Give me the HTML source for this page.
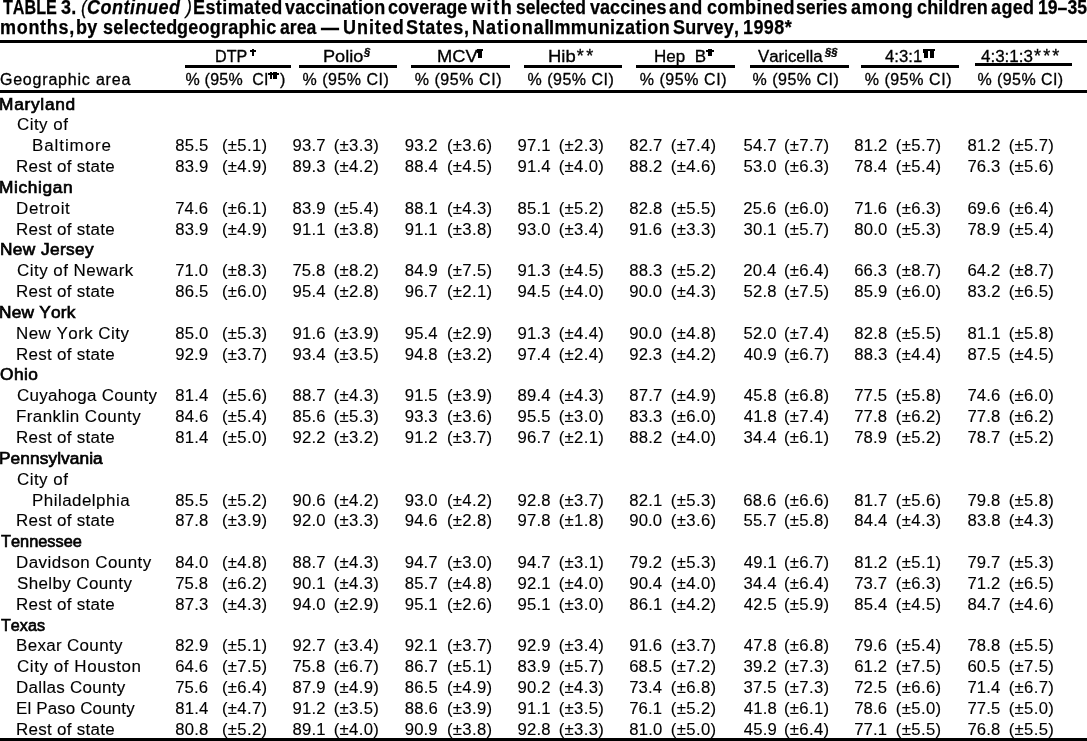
<!DOCTYPE html><html><head><meta charset="utf-8"><style>
html,body{margin:0;padding:0;background:#fff;}
body{width:1087px;height:741px;position:relative;overflow:hidden;will-change:transform;font-family:"Liberation Sans",sans-serif;color:#000;font-kerning:none;}
.t{position:absolute;white-space:pre;transform-origin:0 0;line-height:20px;}
.r{position:absolute;background:#000;}
.b{font-weight:bold;}
.i{font-style:italic;}
.m{-webkit-text-stroke:0.3px #000;}
.s{-webkit-text-stroke:0.65px #000;}
.d{-webkit-text-stroke:0.12px #000;}
</style></head><body><div class="t b" style="left:2.62px;top:-3px;font-size:20px;transform:scaleX(0.8073);-webkit-text-stroke:0.25px #000;">TABLE</div><div class="t b" style="left:60.89px;top:-3px;font-size:20px;transform:scaleX(0.9000);letter-spacing:0.378px;-webkit-text-stroke:0.25px #000;">3.</div><div class="t i" style="left:81.36px;top:-3px;font-size:20px;transform:scaleX(0.9000);-webkit-text-stroke:0.25px #000;">(</div><div class="t b i" style="left:87.42px;top:-3px;font-size:20px;transform:scaleX(0.9000);letter-spacing:0.554px;-webkit-text-stroke:0.25px #000;">Continued</div><div class="t i" style="left:185.75px;top:-3px;font-size:20px;transform:scaleX(0.9000);-webkit-text-stroke:0.25px #000;">)</div><div class="t b" style="left:192.70px;top:-3px;font-size:20px;transform:scaleX(0.9000);letter-spacing:0.453px;-webkit-text-stroke:0.25px #000;">Estimated</div><div class="t b" style="left:285.13px;top:-3px;font-size:20px;transform:scaleX(0.9000);letter-spacing:0.128px;-webkit-text-stroke:0.25px #000;">vaccination</div><div class="t b" style="left:388.40px;top:-3px;font-size:20px;transform:scaleX(0.9000);letter-spacing:0.043px;-webkit-text-stroke:0.25px #000;">coverage</div><div class="t b" style="left:470.55px;top:-3px;font-size:20px;transform:scaleX(0.9000);letter-spacing:1.768px;-webkit-text-stroke:0.25px #000;">with</div><div class="t b" style="left:515.69px;top:-3px;font-size:20px;transform:scaleX(0.8728);-webkit-text-stroke:0.25px #000;">selected</div><div class="t b" style="left:590.33px;top:-3px;font-size:20px;transform:scaleX(0.9000);letter-spacing:0.055px;-webkit-text-stroke:0.25px #000;">vaccines</div><div class="t b" style="left:669.47px;top:-3px;font-size:20px;transform:scaleX(0.9000);letter-spacing:0.729px;-webkit-text-stroke:0.25px #000;">and</div><div class="t b" style="left:706.90px;top:-3px;font-size:20px;transform:scaleX(0.9000);letter-spacing:0.394px;-webkit-text-stroke:0.25px #000;">combined</div><div class="t b" style="left:796.38px;top:-3px;font-size:20px;transform:scaleX(0.8862);-webkit-text-stroke:0.25px #000;">series</div><div class="t b" style="left:851.37px;top:-3px;font-size:20px;transform:scaleX(0.9000);letter-spacing:0.786px;-webkit-text-stroke:0.25px #000;">among</div><div class="t b" style="left:916.50px;top:-3px;font-size:20px;transform:scaleX(0.9000);letter-spacing:0.128px;-webkit-text-stroke:0.25px #000;">children</div><div class="t b" style="left:990.67px;top:-3px;font-size:20px;transform:scaleX(0.9000);letter-spacing:0.408px;-webkit-text-stroke:0.25px #000;">aged</div><div class="t b" style="left:1037.69px;top:-3px;font-size:20px;transform:scaleX(0.8811);-webkit-text-stroke:0.25px #000;">19–35</div><div class="t b" style="left:-0.09px;top:17px;font-size:20px;transform:scaleX(0.9000);letter-spacing:0.777px;-webkit-text-stroke:0.25px #000;">months,</div><div class="t b" style="left:76.11px;top:17px;font-size:20px;transform:scaleX(0.9000);letter-spacing:0.197px;-webkit-text-stroke:0.25px #000;">by</div><div class="t b" style="left:102.57px;top:17px;font-size:20px;transform:scaleX(0.9000);letter-spacing:0.361px;-webkit-text-stroke:0.25px #000;">selected</div><div class="t b" style="left:177.16px;top:17px;font-size:20px;transform:scaleX(0.9000);letter-spacing:0.266px;-webkit-text-stroke:0.25px #000;">geographic</div><div class="t b" style="left:279.68px;top:17px;font-size:20px;transform:scaleX(0.8798);-webkit-text-stroke:0.25px #000;">area</div><div class="t b" style="left:320.50px;top:17px;font-size:20px;transform:scaleX(0.9000);-webkit-text-stroke:0.25px #000;">—</div><div class="t b" style="left:342.82px;top:17px;font-size:20px;transform:scaleX(0.9000);letter-spacing:1.061px;-webkit-text-stroke:0.25px #000;">United</div><div class="t b" style="left:406.28px;top:17px;font-size:20px;transform:scaleX(0.9000);letter-spacing:0.721px;-webkit-text-stroke:0.25px #000;">States,</div><div class="t b" style="left:471.50px;top:17px;font-size:20px;transform:scaleX(0.9000);letter-spacing:1.043px;-webkit-text-stroke:0.25px #000;">National</div><div class="t b" style="left:549.30px;top:17px;font-size:20px;transform:scaleX(0.9000);letter-spacing:0.467px;-webkit-text-stroke:0.25px #000;">Immunization</div><div class="t b" style="left:673.28px;top:17px;font-size:20px;transform:scaleX(0.9000);letter-spacing:0.164px;-webkit-text-stroke:0.25px #000;">Survey,</div><div class="t b" style="left:742.87px;top:17px;font-size:20px;transform:scaleX(0.9000);letter-spacing:0.445px;-webkit-text-stroke:0.25px #000;">1998*</div><div class="r" style="left:0.00px;top:40.00px;width:1087.00px;height:3.00px"></div><div class="r" style="left:0.00px;top:90.00px;width:1087.00px;height:3.00px"></div><div class="r" style="left:0.00px;top:738.00px;width:1087.00px;height:3.00px"></div><div class="r" style="left:185.00px;top:65.00px;width:106.00px;height:3.00px"></div><div class="r" style="left:298.50px;top:65.00px;width:98.50px;height:3.00px"></div><div class="r" style="left:411.00px;top:65.00px;width:99.00px;height:3.00px"></div><div class="r" style="left:524.00px;top:65.00px;width:98.00px;height:3.00px"></div><div class="r" style="left:636.00px;top:65.00px;width:99.00px;height:3.00px"></div><div class="r" style="left:750.00px;top:65.00px;width:99.00px;height:3.00px"></div><div class="r" style="left:861.00px;top:65.00px;width:97.50px;height:3.00px"></div><div class="r" style="left:974.50px;top:63.00px;width:97.50px;height:3.00px"></div><div class="r" style="left:250.00px;top:50.00px;width:6.00px;height:1.60px"></div><div class="r" style="left:252.00px;top:49.00px;width:2.20px;height:7.00px"></div><div class="r" style="left:477.00px;top:49.00px;width:6.00px;height:2.00px"></div><div class="r" style="left:478.00px;top:49.00px;width:4.00px;height:9.00px"></div><div class="r" style="left:476.50px;top:51.00px;width:1.50px;height:2.00px"></div><div class="r" style="left:706.00px;top:50.00px;width:8.00px;height:1.60px"></div><div class="r" style="left:708.00px;top:49.00px;width:4.00px;height:7.00px"></div><div class="r" style="left:923.00px;top:49.00px;width:12.00px;height:2.00px"></div><div class="r" style="left:924.00px;top:49.00px;width:4.00px;height:9.00px"></div><div class="r" style="left:930.00px;top:49.00px;width:4.00px;height:9.00px"></div><div class="r" style="left:922.50px;top:51.00px;width:1.50px;height:2.00px"></div><div class="r" style="left:268.00px;top:73.00px;width:11.00px;height:1.50px"></div><div class="r" style="left:270.00px;top:72.00px;width:2.00px;height:7.00px"></div><div class="r" style="left:273.00px;top:72.00px;width:4.00px;height:7.00px"></div><div class="t m" style="left:-0.10px;top:70px;font-size:16px;letter-spacing:0.801px;">Geographic area</div><div class="t m" style="left:214.58px;top:47px;font-size:16px;transform:scaleX(1.0086);">DTP</div><div class="t m" style="left:185.43px;top:70px;font-size:16px;letter-spacing:0.237px;">% (95%  CI</div><div class="t m" style="left:279.91px;top:70px;font-size:16px;">)</div><div class="t m" style="left:323.41px;top:47px;font-size:16px;transform:scaleX(1.1341);">Polio</div><div class="t b i m" style="left:364.23px;top:43px;font-size:10px;transform:scaleX(1.1187);">§</div><div class="t m" style="left:302.53px;top:70px;font-size:16px;letter-spacing:0.496px;">% (95% CI)</div><div class="t m" style="left:436.50px;top:47px;font-size:16px;transform:scaleX(1.1413);">MCV</div><div class="t m" style="left:414.73px;top:70px;font-size:16px;letter-spacing:0.552px;">% (95% CI)</div><div class="t m" style="left:548.39px;top:47px;font-size:16px;transform:scaleX(1.1533);">Hib</div><div class="t m" style="left:576.71px;top:46px;font-size:18px;letter-spacing:2.562px;">**</div><div class="t m" style="left:527.53px;top:70px;font-size:16px;letter-spacing:0.496px;">% (95% CI)</div><div class="t m" style="left:654.30px;top:47px;font-size:16px;transform:scaleX(1.0629);">Hep  B</div><div class="t m" style="left:639.73px;top:70px;font-size:16px;letter-spacing:0.552px;">% (95% CI)</div><div class="t m" style="left:757.93px;top:47px;font-size:16px;transform:scaleX(1.0524);">Varicella</div><div class="t b i m" style="left:824.83px;top:43px;font-size:10px;transform:scaleX(1.1168);">§§</div><div class="t m" style="left:752.53px;top:70px;font-size:16px;letter-spacing:0.496px;">% (95% CI)</div><div class="t m" style="left:884.62px;top:47px;font-size:16px;transform:scaleX(1.0454);">4:3:1</div><div class="t m" style="left:864.73px;top:70px;font-size:16px;letter-spacing:0.552px;">% (95% CI)</div><div class="t m" style="left:981.41px;top:47px;font-size:16px;transform:scaleX(1.0614);">4:3:1:3</div><div class="t m" style="left:1034.01px;top:46px;font-size:18px;letter-spacing:2.128px;">***</div><div class="t m" style="left:977.43px;top:70px;font-size:16px;letter-spacing:0.441px;">% (95% CI)</div><div class="t s" style="left:-0.52px;top:95px;font-size:16px;transform:scaleX(1.0800);letter-spacing:0.683px;">Maryland</div><div class="t d" style="left:16.64px;top:115px;font-size:16px;transform:scaleX(1.0600);letter-spacing:0.436px;">City of</div><div class="t d" style="left:31.91px;top:136px;font-size:16px;transform:scaleX(1.0600);letter-spacing:0.874px;">Baltimore</div><div class="t d" style="left:175.27px;top:136px;font-size:16.7px;letter-spacing:0.150px;">85.5</div><div class="t d" style="left:221.96px;top:136px;font-size:16.7px;letter-spacing:0.350px;">(±5.1)</div><div class="t d" style="left:292.52px;top:136px;font-size:16.7px;letter-spacing:0.150px;">93.7</div><div class="t d" style="left:333.66px;top:136px;font-size:16.7px;letter-spacing:0.350px;">(±3.3)</div><div class="t d" style="left:404.72px;top:136px;font-size:16.7px;letter-spacing:0.150px;">93.2</div><div class="t d" style="left:446.96px;top:136px;font-size:16.7px;letter-spacing:0.350px;">(±3.6)</div><div class="t d" style="left:517.52px;top:136px;font-size:16.7px;letter-spacing:0.150px;">97.1</div><div class="t d" style="left:558.66px;top:136px;font-size:16.7px;letter-spacing:0.350px;">(±2.3)</div><div class="t d" style="left:629.27px;top:136px;font-size:16.7px;letter-spacing:0.150px;">82.7</div><div class="t d" style="left:670.86px;top:136px;font-size:16.7px;letter-spacing:0.350px;">(±7.4)</div><div class="t d" style="left:743.53px;top:136px;font-size:16.7px;letter-spacing:0.150px;">54.7</div><div class="t d" style="left:783.96px;top:136px;font-size:16.7px;letter-spacing:0.350px;">(±7.7)</div><div class="t d" style="left:854.27px;top:136px;font-size:16.7px;letter-spacing:0.150px;">81.2</div><div class="t d" style="left:895.86px;top:136px;font-size:16.7px;letter-spacing:0.350px;">(±5.7)</div><div class="t d" style="left:967.57px;top:136px;font-size:16.7px;letter-spacing:0.150px;">81.2</div><div class="t d" style="left:1008.66px;top:136px;font-size:16.7px;letter-spacing:0.350px;">(±5.7)</div><div class="t d" style="left:16.11px;top:157px;font-size:16px;transform:scaleX(1.0600);letter-spacing:0.270px;">Rest of state</div><div class="t d" style="left:175.27px;top:157px;font-size:16.7px;letter-spacing:0.150px;">83.9</div><div class="t d" style="left:221.96px;top:157px;font-size:16.7px;letter-spacing:0.350px;">(±4.9)</div><div class="t d" style="left:292.57px;top:157px;font-size:16.7px;letter-spacing:0.150px;">89.3</div><div class="t d" style="left:333.66px;top:157px;font-size:16.7px;letter-spacing:0.350px;">(±4.2)</div><div class="t d" style="left:404.77px;top:157px;font-size:16.7px;letter-spacing:0.150px;">88.4</div><div class="t d" style="left:446.96px;top:157px;font-size:16.7px;letter-spacing:0.350px;">(±4.5)</div><div class="t d" style="left:517.52px;top:157px;font-size:16.7px;letter-spacing:0.150px;">91.4</div><div class="t d" style="left:558.66px;top:157px;font-size:16.7px;letter-spacing:0.350px;">(±4.0)</div><div class="t d" style="left:629.27px;top:157px;font-size:16.7px;letter-spacing:0.150px;">88.2</div><div class="t d" style="left:670.86px;top:157px;font-size:16.7px;letter-spacing:0.350px;">(±4.6)</div><div class="t d" style="left:743.53px;top:157px;font-size:16.7px;letter-spacing:0.150px;">53.0</div><div class="t d" style="left:783.96px;top:157px;font-size:16.7px;letter-spacing:0.350px;">(±6.3)</div><div class="t d" style="left:854.14px;top:157px;font-size:16.7px;letter-spacing:0.150px;">78.4</div><div class="t d" style="left:895.86px;top:157px;font-size:16.7px;letter-spacing:0.350px;">(±5.4)</div><div class="t d" style="left:967.44px;top:157px;font-size:16.7px;letter-spacing:0.150px;">76.3</div><div class="t d" style="left:1008.66px;top:157px;font-size:16.7px;letter-spacing:0.350px;">(±5.6)</div><div class="t s" style="left:-0.52px;top:178px;font-size:16px;transform:scaleX(1.0800);letter-spacing:0.593px;">Michigan</div><div class="t d" style="left:16.11px;top:199px;font-size:16px;transform:scaleX(1.0600);letter-spacing:0.607px;">Detroit</div><div class="t d" style="left:175.14px;top:199px;font-size:16.7px;letter-spacing:0.150px;">74.6</div><div class="t d" style="left:221.96px;top:199px;font-size:16.7px;letter-spacing:0.350px;">(±6.1)</div><div class="t d" style="left:292.57px;top:199px;font-size:16.7px;letter-spacing:0.150px;">83.9</div><div class="t d" style="left:333.66px;top:199px;font-size:16.7px;letter-spacing:0.350px;">(±5.4)</div><div class="t d" style="left:404.77px;top:199px;font-size:16.7px;letter-spacing:0.150px;">88.1</div><div class="t d" style="left:446.96px;top:199px;font-size:16.7px;letter-spacing:0.350px;">(±4.3)</div><div class="t d" style="left:517.57px;top:199px;font-size:16.7px;letter-spacing:0.150px;">85.1</div><div class="t d" style="left:558.66px;top:199px;font-size:16.7px;letter-spacing:0.350px;">(±5.2)</div><div class="t d" style="left:629.27px;top:199px;font-size:16.7px;letter-spacing:0.150px;">82.8</div><div class="t d" style="left:670.86px;top:199px;font-size:16.7px;letter-spacing:0.350px;">(±5.5)</div><div class="t d" style="left:743.36px;top:199px;font-size:16.7px;letter-spacing:0.150px;">25.6</div><div class="t d" style="left:783.96px;top:199px;font-size:16.7px;letter-spacing:0.350px;">(±6.0)</div><div class="t d" style="left:854.14px;top:199px;font-size:16.7px;letter-spacing:0.150px;">71.6</div><div class="t d" style="left:895.86px;top:199px;font-size:16.7px;letter-spacing:0.350px;">(±6.3)</div><div class="t d" style="left:967.45px;top:199px;font-size:16.7px;letter-spacing:0.150px;">69.6</div><div class="t d" style="left:1008.66px;top:199px;font-size:16.7px;letter-spacing:0.350px;">(±6.4)</div><div class="t d" style="left:16.11px;top:220px;font-size:16px;transform:scaleX(1.0600);letter-spacing:0.270px;">Rest of state</div><div class="t d" style="left:175.27px;top:220px;font-size:16.7px;letter-spacing:0.150px;">83.9</div><div class="t d" style="left:221.96px;top:220px;font-size:16.7px;letter-spacing:0.350px;">(±4.9)</div><div class="t d" style="left:292.52px;top:220px;font-size:16.7px;letter-spacing:0.150px;">91.1</div><div class="t d" style="left:333.66px;top:220px;font-size:16.7px;letter-spacing:0.350px;">(±3.8)</div><div class="t d" style="left:404.72px;top:220px;font-size:16.7px;letter-spacing:0.150px;">91.1</div><div class="t d" style="left:446.96px;top:220px;font-size:16.7px;letter-spacing:0.350px;">(±3.8)</div><div class="t d" style="left:517.52px;top:220px;font-size:16.7px;letter-spacing:0.150px;">93.0</div><div class="t d" style="left:558.66px;top:220px;font-size:16.7px;letter-spacing:0.350px;">(±3.4)</div><div class="t d" style="left:629.22px;top:220px;font-size:16.7px;letter-spacing:0.150px;">91.6</div><div class="t d" style="left:670.86px;top:220px;font-size:16.7px;letter-spacing:0.350px;">(±3.3)</div><div class="t d" style="left:743.56px;top:220px;font-size:16.7px;letter-spacing:0.150px;">30.1</div><div class="t d" style="left:783.96px;top:220px;font-size:16.7px;letter-spacing:0.350px;">(±5.7)</div><div class="t d" style="left:854.27px;top:220px;font-size:16.7px;letter-spacing:0.150px;">80.0</div><div class="t d" style="left:895.86px;top:220px;font-size:16.7px;letter-spacing:0.350px;">(±5.3)</div><div class="t d" style="left:967.44px;top:220px;font-size:16.7px;letter-spacing:0.150px;">78.9</div><div class="t d" style="left:1008.66px;top:220px;font-size:16.7px;letter-spacing:0.350px;">(±5.4)</div><div class="t s" style="left:-0.32px;top:240px;font-size:16px;transform:scaleX(1.0800);letter-spacing:0.359px;">New Jersey</div><div class="t d" style="left:16.64px;top:261px;font-size:16px;transform:scaleX(1.0600);letter-spacing:0.441px;">City of Newark</div><div class="t d" style="left:175.14px;top:261px;font-size:16.7px;letter-spacing:0.150px;">71.0</div><div class="t d" style="left:221.96px;top:261px;font-size:16.7px;letter-spacing:0.350px;">(±8.3)</div><div class="t d" style="left:292.44px;top:261px;font-size:16.7px;letter-spacing:0.150px;">75.8</div><div class="t d" style="left:333.66px;top:261px;font-size:16.7px;letter-spacing:0.350px;">(±8.2)</div><div class="t d" style="left:404.77px;top:261px;font-size:16.7px;letter-spacing:0.150px;">84.9</div><div class="t d" style="left:446.96px;top:261px;font-size:16.7px;letter-spacing:0.350px;">(±7.5)</div><div class="t d" style="left:517.52px;top:261px;font-size:16.7px;letter-spacing:0.150px;">91.3</div><div class="t d" style="left:558.66px;top:261px;font-size:16.7px;letter-spacing:0.350px;">(±4.5)</div><div class="t d" style="left:629.27px;top:261px;font-size:16.7px;letter-spacing:0.150px;">88.3</div><div class="t d" style="left:670.86px;top:261px;font-size:16.7px;letter-spacing:0.350px;">(±5.2)</div><div class="t d" style="left:743.36px;top:261px;font-size:16.7px;letter-spacing:0.150px;">20.4</div><div class="t d" style="left:783.96px;top:261px;font-size:16.7px;letter-spacing:0.350px;">(±6.4)</div><div class="t d" style="left:854.15px;top:261px;font-size:16.7px;letter-spacing:0.150px;">66.3</div><div class="t d" style="left:895.86px;top:261px;font-size:16.7px;letter-spacing:0.350px;">(±8.7)</div><div class="t d" style="left:967.45px;top:261px;font-size:16.7px;letter-spacing:0.150px;">64.2</div><div class="t d" style="left:1008.66px;top:261px;font-size:16.7px;letter-spacing:0.350px;">(±8.7)</div><div class="t d" style="left:16.11px;top:282px;font-size:16px;transform:scaleX(1.0600);letter-spacing:0.270px;">Rest of state</div><div class="t d" style="left:175.27px;top:282px;font-size:16.7px;letter-spacing:0.150px;">86.5</div><div class="t d" style="left:221.96px;top:282px;font-size:16.7px;letter-spacing:0.350px;">(±6.0)</div><div class="t d" style="left:292.52px;top:282px;font-size:16.7px;letter-spacing:0.150px;">95.4</div><div class="t d" style="left:333.66px;top:282px;font-size:16.7px;letter-spacing:0.350px;">(±2.8)</div><div class="t d" style="left:404.72px;top:282px;font-size:16.7px;letter-spacing:0.150px;">96.7</div><div class="t d" style="left:446.96px;top:282px;font-size:16.7px;letter-spacing:0.350px;">(±2.1)</div><div class="t d" style="left:517.52px;top:282px;font-size:16.7px;letter-spacing:0.150px;">94.5</div><div class="t d" style="left:558.66px;top:282px;font-size:16.7px;letter-spacing:0.350px;">(±4.0)</div><div class="t d" style="left:629.22px;top:282px;font-size:16.7px;letter-spacing:0.150px;">90.0</div><div class="t d" style="left:670.86px;top:282px;font-size:16.7px;letter-spacing:0.350px;">(±4.3)</div><div class="t d" style="left:743.53px;top:282px;font-size:16.7px;letter-spacing:0.150px;">52.8</div><div class="t d" style="left:783.96px;top:282px;font-size:16.7px;letter-spacing:0.350px;">(±7.5)</div><div class="t d" style="left:854.27px;top:282px;font-size:16.7px;letter-spacing:0.150px;">85.9</div><div class="t d" style="left:895.86px;top:282px;font-size:16.7px;letter-spacing:0.350px;">(±6.0)</div><div class="t d" style="left:967.57px;top:282px;font-size:16.7px;letter-spacing:0.150px;">83.2</div><div class="t d" style="left:1008.66px;top:282px;font-size:16.7px;letter-spacing:0.350px;">(±6.5)</div><div class="t s" style="left:-0.52px;top:303px;font-size:16px;transform:scaleX(1.0800);letter-spacing:0.184px;">New York</div><div class="t d" style="left:16.11px;top:324px;font-size:16px;transform:scaleX(1.0600);letter-spacing:0.432px;">New York City</div><div class="t d" style="left:175.27px;top:324px;font-size:16.7px;letter-spacing:0.150px;">85.0</div><div class="t d" style="left:221.96px;top:324px;font-size:16.7px;letter-spacing:0.350px;">(±5.3)</div><div class="t d" style="left:292.52px;top:324px;font-size:16.7px;letter-spacing:0.150px;">91.6</div><div class="t d" style="left:333.66px;top:324px;font-size:16.7px;letter-spacing:0.350px;">(±3.9)</div><div class="t d" style="left:404.72px;top:324px;font-size:16.7px;letter-spacing:0.150px;">95.4</div><div class="t d" style="left:446.96px;top:324px;font-size:16.7px;letter-spacing:0.350px;">(±2.9)</div><div class="t d" style="left:517.52px;top:324px;font-size:16.7px;letter-spacing:0.150px;">91.3</div><div class="t d" style="left:558.66px;top:324px;font-size:16.7px;letter-spacing:0.350px;">(±4.4)</div><div class="t d" style="left:629.22px;top:324px;font-size:16.7px;letter-spacing:0.150px;">90.0</div><div class="t d" style="left:670.86px;top:324px;font-size:16.7px;letter-spacing:0.350px;">(±4.8)</div><div class="t d" style="left:743.53px;top:324px;font-size:16.7px;letter-spacing:0.150px;">52.0</div><div class="t d" style="left:783.96px;top:324px;font-size:16.7px;letter-spacing:0.350px;">(±7.4)</div><div class="t d" style="left:854.27px;top:324px;font-size:16.7px;letter-spacing:0.150px;">82.8</div><div class="t d" style="left:895.86px;top:324px;font-size:16.7px;letter-spacing:0.350px;">(±5.5)</div><div class="t d" style="left:967.57px;top:324px;font-size:16.7px;letter-spacing:0.150px;">81.1</div><div class="t d" style="left:1008.66px;top:324px;font-size:16.7px;letter-spacing:0.350px;">(±5.8)</div><div class="t d" style="left:16.11px;top:345px;font-size:16px;transform:scaleX(1.0600);letter-spacing:0.270px;">Rest of state</div><div class="t d" style="left:175.22px;top:345px;font-size:16.7px;letter-spacing:0.150px;">92.9</div><div class="t d" style="left:221.96px;top:345px;font-size:16.7px;letter-spacing:0.350px;">(±3.7)</div><div class="t d" style="left:292.52px;top:345px;font-size:16.7px;letter-spacing:0.150px;">93.4</div><div class="t d" style="left:333.66px;top:345px;font-size:16.7px;letter-spacing:0.350px;">(±3.5)</div><div class="t d" style="left:404.72px;top:345px;font-size:16.7px;letter-spacing:0.150px;">94.8</div><div class="t d" style="left:446.96px;top:345px;font-size:16.7px;letter-spacing:0.350px;">(±3.2)</div><div class="t d" style="left:517.52px;top:345px;font-size:16.7px;letter-spacing:0.150px;">97.4</div><div class="t d" style="left:558.66px;top:345px;font-size:16.7px;letter-spacing:0.350px;">(±2.4)</div><div class="t d" style="left:629.22px;top:345px;font-size:16.7px;letter-spacing:0.150px;">92.3</div><div class="t d" style="left:670.86px;top:345px;font-size:16.7px;letter-spacing:0.350px;">(±4.2)</div><div class="t d" style="left:743.82px;top:345px;font-size:16.7px;letter-spacing:0.150px;">40.9</div><div class="t d" style="left:783.96px;top:345px;font-size:16.7px;letter-spacing:0.350px;">(±6.7)</div><div class="t d" style="left:854.27px;top:345px;font-size:16.7px;letter-spacing:0.150px;">88.3</div><div class="t d" style="left:895.86px;top:345px;font-size:16.7px;letter-spacing:0.350px;">(±4.4)</div><div class="t d" style="left:967.57px;top:345px;font-size:16.7px;letter-spacing:0.150px;">87.5</div><div class="t d" style="left:1008.66px;top:345px;font-size:16.7px;letter-spacing:0.350px;">(±4.5)</div><div class="t s" style="left:0.08px;top:365px;font-size:16px;transform:scaleX(1.0800);letter-spacing:0.415px;">Ohio</div><div class="t d" style="left:16.64px;top:386px;font-size:16px;transform:scaleX(1.0600);letter-spacing:0.278px;">Cuyahoga County</div><div class="t d" style="left:175.27px;top:386px;font-size:16.7px;letter-spacing:0.150px;">81.4</div><div class="t d" style="left:221.96px;top:386px;font-size:16.7px;letter-spacing:0.350px;">(±5.6)</div><div class="t d" style="left:292.57px;top:386px;font-size:16.7px;letter-spacing:0.150px;">88.7</div><div class="t d" style="left:333.66px;top:386px;font-size:16.7px;letter-spacing:0.350px;">(±4.3)</div><div class="t d" style="left:404.72px;top:386px;font-size:16.7px;letter-spacing:0.150px;">91.5</div><div class="t d" style="left:446.96px;top:386px;font-size:16.7px;letter-spacing:0.350px;">(±3.9)</div><div class="t d" style="left:517.57px;top:386px;font-size:16.7px;letter-spacing:0.150px;">89.4</div><div class="t d" style="left:558.66px;top:386px;font-size:16.7px;letter-spacing:0.350px;">(±4.3)</div><div class="t d" style="left:629.27px;top:386px;font-size:16.7px;letter-spacing:0.150px;">87.7</div><div class="t d" style="left:670.86px;top:386px;font-size:16.7px;letter-spacing:0.350px;">(±4.9)</div><div class="t d" style="left:743.82px;top:386px;font-size:16.7px;letter-spacing:0.150px;">45.8</div><div class="t d" style="left:783.96px;top:386px;font-size:16.7px;letter-spacing:0.350px;">(±6.8)</div><div class="t d" style="left:854.14px;top:386px;font-size:16.7px;letter-spacing:0.150px;">77.5</div><div class="t d" style="left:895.86px;top:386px;font-size:16.7px;letter-spacing:0.350px;">(±5.8)</div><div class="t d" style="left:967.44px;top:386px;font-size:16.7px;letter-spacing:0.150px;">74.6</div><div class="t d" style="left:1008.66px;top:386px;font-size:16.7px;letter-spacing:0.350px;">(±6.0)</div><div class="t d" style="left:16.11px;top:407px;font-size:16px;transform:scaleX(1.0600);letter-spacing:0.395px;">Franklin County</div><div class="t d" style="left:175.27px;top:407px;font-size:16.7px;letter-spacing:0.150px;">84.6</div><div class="t d" style="left:221.96px;top:407px;font-size:16.7px;letter-spacing:0.350px;">(±5.4)</div><div class="t d" style="left:292.57px;top:407px;font-size:16.7px;letter-spacing:0.150px;">85.6</div><div class="t d" style="left:333.66px;top:407px;font-size:16.7px;letter-spacing:0.350px;">(±5.3)</div><div class="t d" style="left:404.72px;top:407px;font-size:16.7px;letter-spacing:0.150px;">93.3</div><div class="t d" style="left:446.96px;top:407px;font-size:16.7px;letter-spacing:0.350px;">(±3.6)</div><div class="t d" style="left:517.52px;top:407px;font-size:16.7px;letter-spacing:0.150px;">95.5</div><div class="t d" style="left:558.66px;top:407px;font-size:16.7px;letter-spacing:0.350px;">(±3.0)</div><div class="t d" style="left:629.27px;top:407px;font-size:16.7px;letter-spacing:0.150px;">83.3</div><div class="t d" style="left:670.86px;top:407px;font-size:16.7px;letter-spacing:0.350px;">(±6.0)</div><div class="t d" style="left:743.82px;top:407px;font-size:16.7px;letter-spacing:0.150px;">41.8</div><div class="t d" style="left:783.96px;top:407px;font-size:16.7px;letter-spacing:0.350px;">(±7.4)</div><div class="t d" style="left:854.14px;top:407px;font-size:16.7px;letter-spacing:0.150px;">77.8</div><div class="t d" style="left:895.86px;top:407px;font-size:16.7px;letter-spacing:0.350px;">(±6.2)</div><div class="t d" style="left:967.44px;top:407px;font-size:16.7px;letter-spacing:0.150px;">77.8</div><div class="t d" style="left:1008.66px;top:407px;font-size:16.7px;letter-spacing:0.350px;">(±6.2)</div><div class="t d" style="left:16.11px;top:428px;font-size:16px;transform:scaleX(1.0600);letter-spacing:0.270px;">Rest of state</div><div class="t d" style="left:175.27px;top:428px;font-size:16.7px;letter-spacing:0.150px;">81.4</div><div class="t d" style="left:221.96px;top:428px;font-size:16.7px;letter-spacing:0.350px;">(±5.0)</div><div class="t d" style="left:292.52px;top:428px;font-size:16.7px;letter-spacing:0.150px;">92.2</div><div class="t d" style="left:333.66px;top:428px;font-size:16.7px;letter-spacing:0.350px;">(±3.2)</div><div class="t d" style="left:404.72px;top:428px;font-size:16.7px;letter-spacing:0.150px;">91.2</div><div class="t d" style="left:446.96px;top:428px;font-size:16.7px;letter-spacing:0.350px;">(±3.7)</div><div class="t d" style="left:517.52px;top:428px;font-size:16.7px;letter-spacing:0.150px;">96.7</div><div class="t d" style="left:558.66px;top:428px;font-size:16.7px;letter-spacing:0.350px;">(±2.1)</div><div class="t d" style="left:629.27px;top:428px;font-size:16.7px;letter-spacing:0.150px;">88.2</div><div class="t d" style="left:670.86px;top:428px;font-size:16.7px;letter-spacing:0.350px;">(±4.0)</div><div class="t d" style="left:743.56px;top:428px;font-size:16.7px;letter-spacing:0.150px;">34.4</div><div class="t d" style="left:783.96px;top:428px;font-size:16.7px;letter-spacing:0.350px;">(±6.1)</div><div class="t d" style="left:854.14px;top:428px;font-size:16.7px;letter-spacing:0.150px;">78.9</div><div class="t d" style="left:895.86px;top:428px;font-size:16.7px;letter-spacing:0.350px;">(±5.2)</div><div class="t d" style="left:967.44px;top:428px;font-size:16.7px;letter-spacing:0.150px;">78.7</div><div class="t d" style="left:1008.66px;top:428px;font-size:16.7px;letter-spacing:0.350px;">(±5.2)</div><div class="t s" style="left:-0.72px;top:449px;font-size:16px;transform:scaleX(1.0800);letter-spacing:0.078px;">Pennsylvania</div><div class="t d" style="left:16.64px;top:470px;font-size:16px;transform:scaleX(1.0600);letter-spacing:0.436px;">City of</div><div class="t d" style="left:31.91px;top:491px;font-size:16px;transform:scaleX(1.0600);letter-spacing:0.444px;">Philadelphia</div><div class="t d" style="left:175.27px;top:491px;font-size:16.7px;letter-spacing:0.150px;">85.5</div><div class="t d" style="left:221.96px;top:491px;font-size:16.7px;letter-spacing:0.350px;">(±5.2)</div><div class="t d" style="left:292.52px;top:491px;font-size:16.7px;letter-spacing:0.150px;">90.6</div><div class="t d" style="left:333.66px;top:491px;font-size:16.7px;letter-spacing:0.350px;">(±4.2)</div><div class="t d" style="left:404.72px;top:491px;font-size:16.7px;letter-spacing:0.150px;">93.0</div><div class="t d" style="left:446.96px;top:491px;font-size:16.7px;letter-spacing:0.350px;">(±4.2)</div><div class="t d" style="left:517.52px;top:491px;font-size:16.7px;letter-spacing:0.150px;">92.8</div><div class="t d" style="left:558.66px;top:491px;font-size:16.7px;letter-spacing:0.350px;">(±3.7)</div><div class="t d" style="left:629.27px;top:491px;font-size:16.7px;letter-spacing:0.150px;">82.1</div><div class="t d" style="left:670.86px;top:491px;font-size:16.7px;letter-spacing:0.350px;">(±5.3)</div><div class="t d" style="left:743.35px;top:491px;font-size:16.7px;letter-spacing:0.150px;">68.6</div><div class="t d" style="left:783.96px;top:491px;font-size:16.7px;letter-spacing:0.350px;">(±6.6)</div><div class="t d" style="left:854.27px;top:491px;font-size:16.7px;letter-spacing:0.150px;">81.7</div><div class="t d" style="left:895.86px;top:491px;font-size:16.7px;letter-spacing:0.350px;">(±5.6)</div><div class="t d" style="left:967.44px;top:491px;font-size:16.7px;letter-spacing:0.150px;">79.8</div><div class="t d" style="left:1008.66px;top:491px;font-size:16.7px;letter-spacing:0.350px;">(±5.8)</div><div class="t d" style="left:16.11px;top:511px;font-size:16px;transform:scaleX(1.0600);letter-spacing:0.270px;">Rest of state</div><div class="t d" style="left:175.27px;top:511px;font-size:16.7px;letter-spacing:0.150px;">87.8</div><div class="t d" style="left:221.96px;top:511px;font-size:16.7px;letter-spacing:0.350px;">(±3.9)</div><div class="t d" style="left:292.52px;top:511px;font-size:16.7px;letter-spacing:0.150px;">92.0</div><div class="t d" style="left:333.66px;top:511px;font-size:16.7px;letter-spacing:0.350px;">(±3.3)</div><div class="t d" style="left:404.72px;top:511px;font-size:16.7px;letter-spacing:0.150px;">94.6</div><div class="t d" style="left:446.96px;top:511px;font-size:16.7px;letter-spacing:0.350px;">(±2.8)</div><div class="t d" style="left:517.52px;top:511px;font-size:16.7px;letter-spacing:0.150px;">97.8</div><div class="t d" style="left:558.66px;top:511px;font-size:16.7px;letter-spacing:0.350px;">(±1.8)</div><div class="t d" style="left:629.22px;top:511px;font-size:16.7px;letter-spacing:0.150px;">90.0</div><div class="t d" style="left:670.86px;top:511px;font-size:16.7px;letter-spacing:0.350px;">(±3.6)</div><div class="t d" style="left:743.53px;top:511px;font-size:16.7px;letter-spacing:0.150px;">55.7</div><div class="t d" style="left:783.96px;top:511px;font-size:16.7px;letter-spacing:0.350px;">(±5.8)</div><div class="t d" style="left:854.27px;top:511px;font-size:16.7px;letter-spacing:0.150px;">84.4</div><div class="t d" style="left:895.86px;top:511px;font-size:16.7px;letter-spacing:0.350px;">(±4.3)</div><div class="t d" style="left:967.57px;top:511px;font-size:16.7px;letter-spacing:0.150px;">83.8</div><div class="t d" style="left:1008.66px;top:511px;font-size:16.7px;letter-spacing:0.350px;">(±4.3)</div><div class="t s" style="left:0.83px;top:532px;font-size:16px;transform:scaleX(1.0218);">Tennessee</div><div class="t d" style="left:16.11px;top:553px;font-size:16px;transform:scaleX(1.0600);letter-spacing:0.402px;">Davidson County</div><div class="t d" style="left:175.27px;top:553px;font-size:16.7px;letter-spacing:0.150px;">84.0</div><div class="t d" style="left:221.96px;top:553px;font-size:16.7px;letter-spacing:0.350px;">(±4.8)</div><div class="t d" style="left:292.57px;top:553px;font-size:16.7px;letter-spacing:0.150px;">88.7</div><div class="t d" style="left:333.66px;top:553px;font-size:16.7px;letter-spacing:0.350px;">(±4.3)</div><div class="t d" style="left:404.72px;top:553px;font-size:16.7px;letter-spacing:0.150px;">94.7</div><div class="t d" style="left:446.96px;top:553px;font-size:16.7px;letter-spacing:0.350px;">(±3.0)</div><div class="t d" style="left:517.52px;top:553px;font-size:16.7px;letter-spacing:0.150px;">94.7</div><div class="t d" style="left:558.66px;top:553px;font-size:16.7px;letter-spacing:0.350px;">(±3.1)</div><div class="t d" style="left:629.14px;top:553px;font-size:16.7px;letter-spacing:0.150px;">79.2</div><div class="t d" style="left:670.86px;top:553px;font-size:16.7px;letter-spacing:0.350px;">(±5.3)</div><div class="t d" style="left:743.82px;top:553px;font-size:16.7px;letter-spacing:0.150px;">49.1</div><div class="t d" style="left:783.96px;top:553px;font-size:16.7px;letter-spacing:0.350px;">(±6.7)</div><div class="t d" style="left:854.27px;top:553px;font-size:16.7px;letter-spacing:0.150px;">81.2</div><div class="t d" style="left:895.86px;top:553px;font-size:16.7px;letter-spacing:0.350px;">(±5.1)</div><div class="t d" style="left:967.44px;top:553px;font-size:16.7px;letter-spacing:0.150px;">79.7</div><div class="t d" style="left:1008.66px;top:553px;font-size:16.7px;letter-spacing:0.350px;">(±5.3)</div><div class="t d" style="left:16.73px;top:574px;font-size:16px;transform:scaleX(1.0600);letter-spacing:0.361px;">Shelby County</div><div class="t d" style="left:175.14px;top:574px;font-size:16.7px;letter-spacing:0.150px;">75.8</div><div class="t d" style="left:221.96px;top:574px;font-size:16.7px;letter-spacing:0.350px;">(±6.2)</div><div class="t d" style="left:292.52px;top:574px;font-size:16.7px;letter-spacing:0.150px;">90.1</div><div class="t d" style="left:333.66px;top:574px;font-size:16.7px;letter-spacing:0.350px;">(±4.3)</div><div class="t d" style="left:404.77px;top:574px;font-size:16.7px;letter-spacing:0.150px;">85.7</div><div class="t d" style="left:446.96px;top:574px;font-size:16.7px;letter-spacing:0.350px;">(±4.8)</div><div class="t d" style="left:517.52px;top:574px;font-size:16.7px;letter-spacing:0.150px;">92.1</div><div class="t d" style="left:558.66px;top:574px;font-size:16.7px;letter-spacing:0.350px;">(±4.0)</div><div class="t d" style="left:629.22px;top:574px;font-size:16.7px;letter-spacing:0.150px;">90.4</div><div class="t d" style="left:670.86px;top:574px;font-size:16.7px;letter-spacing:0.350px;">(±4.0)</div><div class="t d" style="left:743.56px;top:574px;font-size:16.7px;letter-spacing:0.150px;">34.4</div><div class="t d" style="left:783.96px;top:574px;font-size:16.7px;letter-spacing:0.350px;">(±6.4)</div><div class="t d" style="left:854.14px;top:574px;font-size:16.7px;letter-spacing:0.150px;">73.7</div><div class="t d" style="left:895.86px;top:574px;font-size:16.7px;letter-spacing:0.350px;">(±6.3)</div><div class="t d" style="left:967.44px;top:574px;font-size:16.7px;letter-spacing:0.150px;">71.2</div><div class="t d" style="left:1008.66px;top:574px;font-size:16.7px;letter-spacing:0.350px;">(±6.5)</div><div class="t d" style="left:16.11px;top:595px;font-size:16px;transform:scaleX(1.0600);letter-spacing:0.270px;">Rest of state</div><div class="t d" style="left:175.27px;top:595px;font-size:16.7px;letter-spacing:0.150px;">87.3</div><div class="t d" style="left:221.96px;top:595px;font-size:16.7px;letter-spacing:0.350px;">(±4.3)</div><div class="t d" style="left:292.52px;top:595px;font-size:16.7px;letter-spacing:0.150px;">94.0</div><div class="t d" style="left:333.66px;top:595px;font-size:16.7px;letter-spacing:0.350px;">(±2.9)</div><div class="t d" style="left:404.72px;top:595px;font-size:16.7px;letter-spacing:0.150px;">95.1</div><div class="t d" style="left:446.96px;top:595px;font-size:16.7px;letter-spacing:0.350px;">(±2.6)</div><div class="t d" style="left:517.52px;top:595px;font-size:16.7px;letter-spacing:0.150px;">95.1</div><div class="t d" style="left:558.66px;top:595px;font-size:16.7px;letter-spacing:0.350px;">(±3.0)</div><div class="t d" style="left:629.27px;top:595px;font-size:16.7px;letter-spacing:0.150px;">86.1</div><div class="t d" style="left:670.86px;top:595px;font-size:16.7px;letter-spacing:0.350px;">(±4.2)</div><div class="t d" style="left:743.82px;top:595px;font-size:16.7px;letter-spacing:0.150px;">42.5</div><div class="t d" style="left:783.96px;top:595px;font-size:16.7px;letter-spacing:0.350px;">(±5.9)</div><div class="t d" style="left:854.27px;top:595px;font-size:16.7px;letter-spacing:0.150px;">85.4</div><div class="t d" style="left:895.86px;top:595px;font-size:16.7px;letter-spacing:0.350px;">(±4.5)</div><div class="t d" style="left:967.57px;top:595px;font-size:16.7px;letter-spacing:0.150px;">84.7</div><div class="t d" style="left:1008.66px;top:595px;font-size:16.7px;letter-spacing:0.350px;">(±4.6)</div><div class="t s" style="left:0.54px;top:616px;font-size:16px;transform:scaleX(1.0086);">Texas</div><div class="t d" style="left:16.11px;top:636px;font-size:16px;transform:scaleX(1.0600);letter-spacing:0.315px;">Bexar County</div><div class="t d" style="left:175.27px;top:636px;font-size:16.7px;letter-spacing:0.150px;">82.9</div><div class="t d" style="left:221.96px;top:636px;font-size:16.7px;letter-spacing:0.350px;">(±5.1)</div><div class="t d" style="left:292.52px;top:636px;font-size:16.7px;letter-spacing:0.150px;">92.7</div><div class="t d" style="left:333.66px;top:636px;font-size:16.7px;letter-spacing:0.350px;">(±3.4)</div><div class="t d" style="left:404.72px;top:636px;font-size:16.7px;letter-spacing:0.150px;">92.1</div><div class="t d" style="left:446.96px;top:636px;font-size:16.7px;letter-spacing:0.350px;">(±3.7)</div><div class="t d" style="left:517.52px;top:636px;font-size:16.7px;letter-spacing:0.150px;">92.9</div><div class="t d" style="left:558.66px;top:636px;font-size:16.7px;letter-spacing:0.350px;">(±3.4)</div><div class="t d" style="left:629.22px;top:636px;font-size:16.7px;letter-spacing:0.150px;">91.6</div><div class="t d" style="left:670.86px;top:636px;font-size:16.7px;letter-spacing:0.350px;">(±3.7)</div><div class="t d" style="left:743.82px;top:636px;font-size:16.7px;letter-spacing:0.150px;">47.8</div><div class="t d" style="left:783.96px;top:636px;font-size:16.7px;letter-spacing:0.350px;">(±6.8)</div><div class="t d" style="left:854.14px;top:636px;font-size:16.7px;letter-spacing:0.150px;">79.6</div><div class="t d" style="left:895.86px;top:636px;font-size:16.7px;letter-spacing:0.350px;">(±5.4)</div><div class="t d" style="left:967.44px;top:636px;font-size:16.7px;letter-spacing:0.150px;">78.8</div><div class="t d" style="left:1008.66px;top:636px;font-size:16.7px;letter-spacing:0.350px;">(±5.5)</div><div class="t d" style="left:16.64px;top:657px;font-size:16px;transform:scaleX(1.0600);letter-spacing:0.540px;">City of Houston</div><div class="t d" style="left:175.15px;top:657px;font-size:16.7px;letter-spacing:0.150px;">64.6</div><div class="t d" style="left:221.96px;top:657px;font-size:16.7px;letter-spacing:0.350px;">(±7.5)</div><div class="t d" style="left:292.44px;top:657px;font-size:16.7px;letter-spacing:0.150px;">75.8</div><div class="t d" style="left:333.66px;top:657px;font-size:16.7px;letter-spacing:0.350px;">(±6.7)</div><div class="t d" style="left:404.77px;top:657px;font-size:16.7px;letter-spacing:0.150px;">86.7</div><div class="t d" style="left:446.96px;top:657px;font-size:16.7px;letter-spacing:0.350px;">(±5.1)</div><div class="t d" style="left:517.57px;top:657px;font-size:16.7px;letter-spacing:0.150px;">83.9</div><div class="t d" style="left:558.66px;top:657px;font-size:16.7px;letter-spacing:0.350px;">(±5.7)</div><div class="t d" style="left:629.15px;top:657px;font-size:16.7px;letter-spacing:0.150px;">68.5</div><div class="t d" style="left:670.86px;top:657px;font-size:16.7px;letter-spacing:0.350px;">(±7.2)</div><div class="t d" style="left:743.56px;top:657px;font-size:16.7px;letter-spacing:0.150px;">39.2</div><div class="t d" style="left:783.96px;top:657px;font-size:16.7px;letter-spacing:0.350px;">(±7.3)</div><div class="t d" style="left:854.15px;top:657px;font-size:16.7px;letter-spacing:0.150px;">61.2</div><div class="t d" style="left:895.86px;top:657px;font-size:16.7px;letter-spacing:0.350px;">(±7.5)</div><div class="t d" style="left:967.45px;top:657px;font-size:16.7px;letter-spacing:0.150px;">60.5</div><div class="t d" style="left:1008.66px;top:657px;font-size:16.7px;letter-spacing:0.350px;">(±7.5)</div><div class="t d" style="left:16.11px;top:678px;font-size:16px;transform:scaleX(1.0600);letter-spacing:0.295px;">Dallas County</div><div class="t d" style="left:175.14px;top:678px;font-size:16.7px;letter-spacing:0.150px;">75.6</div><div class="t d" style="left:221.96px;top:678px;font-size:16.7px;letter-spacing:0.350px;">(±6.4)</div><div class="t d" style="left:292.57px;top:678px;font-size:16.7px;letter-spacing:0.150px;">87.9</div><div class="t d" style="left:333.66px;top:678px;font-size:16.7px;letter-spacing:0.350px;">(±4.9)</div><div class="t d" style="left:404.77px;top:678px;font-size:16.7px;letter-spacing:0.150px;">86.5</div><div class="t d" style="left:446.96px;top:678px;font-size:16.7px;letter-spacing:0.350px;">(±4.9)</div><div class="t d" style="left:517.52px;top:678px;font-size:16.7px;letter-spacing:0.150px;">90.2</div><div class="t d" style="left:558.66px;top:678px;font-size:16.7px;letter-spacing:0.350px;">(±4.3)</div><div class="t d" style="left:629.14px;top:678px;font-size:16.7px;letter-spacing:0.150px;">73.4</div><div class="t d" style="left:670.86px;top:678px;font-size:16.7px;letter-spacing:0.350px;">(±6.8)</div><div class="t d" style="left:743.56px;top:678px;font-size:16.7px;letter-spacing:0.150px;">37.5</div><div class="t d" style="left:783.96px;top:678px;font-size:16.7px;letter-spacing:0.350px;">(±7.3)</div><div class="t d" style="left:854.14px;top:678px;font-size:16.7px;letter-spacing:0.150px;">72.5</div><div class="t d" style="left:895.86px;top:678px;font-size:16.7px;letter-spacing:0.350px;">(±6.6)</div><div class="t d" style="left:967.44px;top:678px;font-size:16.7px;letter-spacing:0.150px;">71.4</div><div class="t d" style="left:1008.66px;top:678px;font-size:16.7px;letter-spacing:0.350px;">(±6.7)</div><div class="t d" style="left:16.11px;top:699px;font-size:16px;transform:scaleX(1.0600);letter-spacing:0.125px;">El Paso County</div><div class="t d" style="left:175.27px;top:699px;font-size:16.7px;letter-spacing:0.150px;">81.4</div><div class="t d" style="left:221.96px;top:699px;font-size:16.7px;letter-spacing:0.350px;">(±4.7)</div><div class="t d" style="left:292.52px;top:699px;font-size:16.7px;letter-spacing:0.150px;">91.2</div><div class="t d" style="left:333.66px;top:699px;font-size:16.7px;letter-spacing:0.350px;">(±3.5)</div><div class="t d" style="left:404.77px;top:699px;font-size:16.7px;letter-spacing:0.150px;">88.6</div><div class="t d" style="left:446.96px;top:699px;font-size:16.7px;letter-spacing:0.350px;">(±3.9)</div><div class="t d" style="left:517.52px;top:699px;font-size:16.7px;letter-spacing:0.150px;">91.1</div><div class="t d" style="left:558.66px;top:699px;font-size:16.7px;letter-spacing:0.350px;">(±3.5)</div><div class="t d" style="left:629.14px;top:699px;font-size:16.7px;letter-spacing:0.150px;">76.1</div><div class="t d" style="left:670.86px;top:699px;font-size:16.7px;letter-spacing:0.350px;">(±5.2)</div><div class="t d" style="left:743.82px;top:699px;font-size:16.7px;letter-spacing:0.150px;">41.8</div><div class="t d" style="left:783.96px;top:699px;font-size:16.7px;letter-spacing:0.350px;">(±6.1)</div><div class="t d" style="left:854.14px;top:699px;font-size:16.7px;letter-spacing:0.150px;">78.6</div><div class="t d" style="left:895.86px;top:699px;font-size:16.7px;letter-spacing:0.350px;">(±5.0)</div><div class="t d" style="left:967.44px;top:699px;font-size:16.7px;letter-spacing:0.150px;">77.5</div><div class="t d" style="left:1008.66px;top:699px;font-size:16.7px;letter-spacing:0.350px;">(±5.0)</div><div class="t d" style="left:16.11px;top:720px;font-size:16px;transform:scaleX(1.0600);letter-spacing:0.270px;">Rest of state</div><div class="t d" style="left:175.27px;top:720px;font-size:16.7px;letter-spacing:0.150px;">80.8</div><div class="t d" style="left:221.96px;top:720px;font-size:16.7px;letter-spacing:0.350px;">(±5.2)</div><div class="t d" style="left:292.57px;top:720px;font-size:16.7px;letter-spacing:0.150px;">89.1</div><div class="t d" style="left:333.66px;top:720px;font-size:16.7px;letter-spacing:0.350px;">(±4.0)</div><div class="t d" style="left:404.72px;top:720px;font-size:16.7px;letter-spacing:0.150px;">90.9</div><div class="t d" style="left:446.96px;top:720px;font-size:16.7px;letter-spacing:0.350px;">(±3.8)</div><div class="t d" style="left:517.52px;top:720px;font-size:16.7px;letter-spacing:0.150px;">92.8</div><div class="t d" style="left:558.66px;top:720px;font-size:16.7px;letter-spacing:0.350px;">(±3.3)</div><div class="t d" style="left:629.27px;top:720px;font-size:16.7px;letter-spacing:0.150px;">81.0</div><div class="t d" style="left:670.86px;top:720px;font-size:16.7px;letter-spacing:0.350px;">(±5.0)</div><div class="t d" style="left:743.82px;top:720px;font-size:16.7px;letter-spacing:0.150px;">45.9</div><div class="t d" style="left:783.96px;top:720px;font-size:16.7px;letter-spacing:0.350px;">(±6.4)</div><div class="t d" style="left:854.14px;top:720px;font-size:16.7px;letter-spacing:0.150px;">77.1</div><div class="t d" style="left:895.86px;top:720px;font-size:16.7px;letter-spacing:0.350px;">(±5.5)</div><div class="t d" style="left:967.44px;top:720px;font-size:16.7px;letter-spacing:0.150px;">76.8</div><div class="t d" style="left:1008.66px;top:720px;font-size:16.7px;letter-spacing:0.350px;">(±5.5)</div></body></html>
